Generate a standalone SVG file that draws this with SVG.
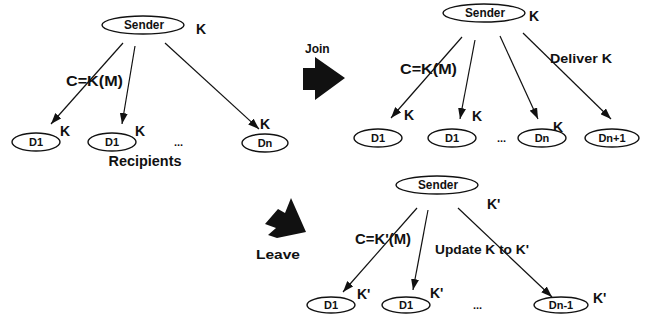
<svg xmlns="http://www.w3.org/2000/svg" width="657" height="320" viewBox="0 0 657 320">
<defs>
<marker id="ah" markerUnits="userSpaceOnUse" markerWidth="12" markerHeight="8" refX="11" refY="4" orient="auto">
<path d="M0,0 L11,4 L0,8 z" fill="#111"/>
</marker>
<style>
.n{fill:#fff;stroke:#111;stroke-width:1.4}
.t{font-family:"Liberation Sans",Arial,sans-serif;font-weight:bold;fill:#111;font-size:11px}
.c{text-anchor:middle}
.s{font-size:12px}
.m{font-size:13px}
.k{font-size:14px}
.l{font-size:14px}
.e{stroke:#111;stroke-width:1.2;fill:none;marker-end:url(#ah)}
.b{fill:#111}
</style>
</defs>
<rect width="657" height="320" fill="#fff"/>

<g id="connectors">
<line class="e" x1="123" y1="43" x2="51" y2="124"/>
<line class="e" x1="135" y1="46" x2="122" y2="124"/>
<line class="e" x1="165" y1="43" x2="259" y2="129"/>
<line class="e" x1="462" y1="37" x2="391" y2="118"/>
<line class="e" x1="475" y1="40" x2="460" y2="119"/>
<line class="e" x1="500" y1="36" x2="538" y2="119"/>
<line class="e" x1="523" y1="33" x2="611" y2="119"/>
<line class="e" x1="417" y1="208" x2="343" y2="292"/>
<line class="e" x1="428" y1="210" x2="413" y2="290"/>
<line class="e" x1="458" y1="208" x2="552" y2="297"/>
</g>

<g id="labels">
<text class="t l" x="66" y="86" textLength="57" lengthAdjust="spacingAndGlyphs">C=K(M)</text>
<text class="t l" x="400" y="74" textLength="57" lengthAdjust="spacingAndGlyphs">C=K(M)</text>
<text class="t s" x="550" y="63" textLength="62" lengthAdjust="spacingAndGlyphs">Deliver K</text>
<text class="t l" x="355" y="244" textLength="56" lengthAdjust="spacingAndGlyphs">C=K'(M)</text>
<text class="t m" x="435" y="254" textLength="94" lengthAdjust="spacingAndGlyphs">Update K to K'</text>
<text class="t l c" x="145" y="166" textLength="73" lengthAdjust="spacingAndGlyphs">Recipients</text>
<text class="t k" x="196" y="34">K</text>
<text class="t k" x="60" y="136">K</text>
<text class="t k" x="135" y="136">K</text>
<text class="t k" x="260" y="129">K</text>
<text class="t k" x="529" y="21">K</text>
<text class="t k" x="404" y="120">K</text>
<text class="t k" x="472" y="121">K</text>
<text class="t k" x="553" y="132">K</text>
<text class="t k" x="487" y="209">K'</text>
<text class="t k" x="357" y="299">K'</text>
<text class="t k" x="430" y="298">K'</text>
<text class="t k" x="593" y="303">K'</text>
<text class="t" x="174" y="146" font-size="10">...</text>
<text class="t" x="497" y="142" font-size="10">...</text>
<text class="t" x="473" y="309" font-size="10">...</text>
</g>

<g id="join">
<text class="t s" x="305" y="53">Join</text>
<polygon class="b" points="303,68 315,68 315,57 345,78 315,100 315,90 303,90"/>
</g>
<g id="leave">
<polygon class="b" points="265,224 278,209 285,213 291,198 306,232 277,238 268,235 276,228"/>
<text class="t s" x="256" y="259" textLength="44" lengthAdjust="spacingAndGlyphs">Leave</text>
</g>

<g id="sender1"><ellipse class="n" cx="143" cy="25" rx="41" ry="9"/><text class="t s c" x="144" y="29" textLength="40" lengthAdjust="spacingAndGlyphs">Sender</text></g>
<g id="p1-d1a"><ellipse class="n" cx="36" cy="142" rx="24" ry="9"/><text class="t c" x="36" y="146">D1</text></g>
<g id="p1-d1b"><ellipse class="n" cx="112" cy="142" rx="24" ry="9"/><text class="t c" x="112" y="146">D1</text></g>
<g id="p1-dn"><ellipse class="n" cx="265" cy="143" rx="23" ry="9"/><text class="t c" x="265" y="147">Dn</text></g>

<g id="sender2"><ellipse class="n" cx="484" cy="13" rx="41" ry="9"/><text class="t s c" x="485" y="17" textLength="40" lengthAdjust="spacingAndGlyphs">Sender</text></g>
<g id="p2-d1a"><ellipse class="n" cx="378" cy="138" rx="24" ry="9"/><text class="t c" x="378" y="142">D1</text></g>
<g id="p2-d1b"><ellipse class="n" cx="452" cy="138" rx="24" ry="9"/><text class="t c" x="452" y="142">D1</text></g>
<g id="p2-dn"><ellipse class="n" cx="542" cy="138" rx="24" ry="9"/><text class="t c" x="542" y="142">Dn</text></g>
<g id="p2-dn1"><ellipse class="n" cx="612" cy="138" rx="27" ry="9"/><text class="t c" x="612" y="142">Dn+1</text></g>

<g id="sender3"><ellipse class="n" cx="437" cy="185" rx="41" ry="9"/><text class="t s c" x="438" y="189" textLength="40" lengthAdjust="spacingAndGlyphs">Sender</text></g>
<g id="p3-d1a"><ellipse class="n" cx="331" cy="305" rx="24" ry="8"/><text class="t c" x="331" y="309">D1</text></g>
<g id="p3-d1b"><ellipse class="n" cx="406" cy="305" rx="24" ry="8"/><text class="t c" x="406" y="309">D1</text></g>
<g id="p3-dn1"><ellipse class="n" cx="561" cy="305" rx="27" ry="8"/><text class="t c" x="561" y="309">Dn-1</text></g>
</svg>
